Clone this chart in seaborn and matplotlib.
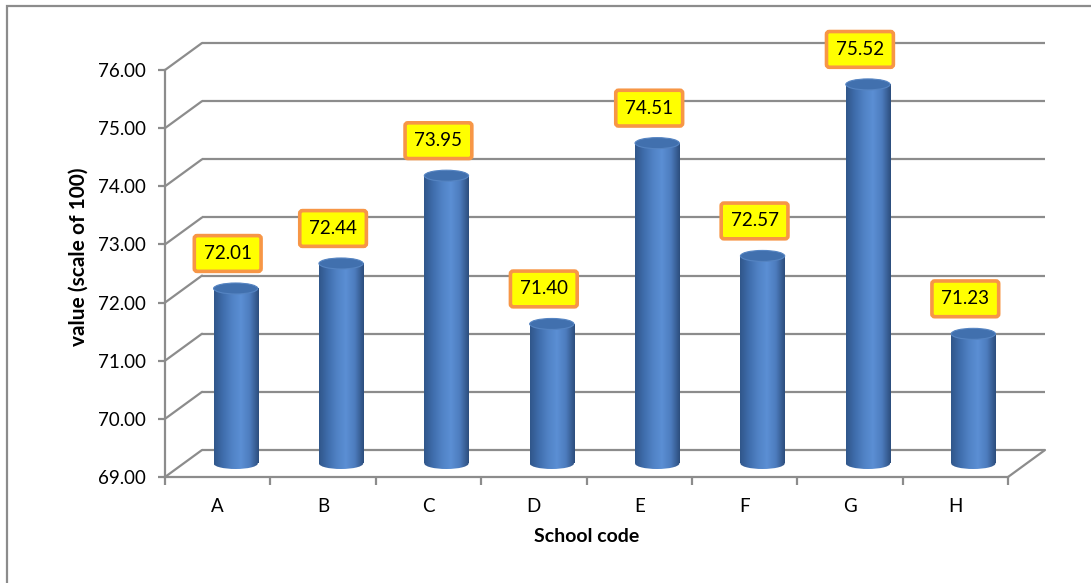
import numpy as np
import pandas as pd
import matplotlib
matplotlib.use("Agg")
import matplotlib.pyplot as plt
import seaborn as sns
from matplotlib.colors import LinearSegmentedColormap
from matplotlib.patches import Ellipse, Rectangle

# Average value per school
schools = ["A", "B", "C", "D", "E", "F", "G", "H"]
scores = [72.01, 72.44, 73.95, 71.40, 74.51, 72.57, 75.52, 71.23]
y_ticks = [69, 70, 71, 72, 73, 74, 75, 76]

GRID = "#8c8c8c"
W, H, DPI = 1091, 583, 100

sns.set_theme(style="white")
plt.rcParams["font.family"] = ["Lato", "DejaVu Sans"]

fig = plt.figure(figsize=(W / DPI, H / DPI), dpi=DPI)
ax = fig.add_axes([165 / W, (H - 477) / H, (1008 - 165) / W, (477 - 70) / H])

df = pd.DataFrame({"School code": schools, "value": scores})
sns.barplot(data=df, x="School code", y="value", ax=ax, width=0.42,
            color="#4f81bd", saturation=1, errorbar=None)

ax.set_xlim(-0.5, 7.5)
ax.set_ylim(y_ticks[0], y_ticks[-1])
n = len(schools)


def px_to_data(dxp, dyp):
    inv = ax.transData.inverted()
    x0, y0 = inv.transform((0, 0))
    x1, y1 = inv.transform((dxp, dyp))
    return x1 - x0, y1 - y0


# 3D depth: back wall and mid-depth (where the cylinders stand)
dxb, dyb = px_to_data(37, 27)
dxm, dym = px_to_data(18, 13.5)
_, ell_h = px_to_data(0, 11)

ymin = y_ticks[0]
lw = 1.6
# back wall gridlines and the left side-wall diagonals
for yv in y_ticks:
    ax.plot([-0.5 + dxb, n - 0.5 + dxb], [yv + dyb, yv + dyb], color=GRID,
            lw=lw, clip_on=False, zorder=1, solid_capstyle="butt")
    ax.plot([-0.5, -0.5 + dxb], [yv, yv + dyb], color=GRID, lw=lw,
            clip_on=False, zorder=1)
# floor: right diagonal
ax.plot([n - 0.5, n - 0.5 + dxb], [ymin, ymin + dyb], color=GRID, lw=lw,
        clip_on=False, zorder=1)

# cylinder shading
cyl_cmap = LinearSegmentedColormap.from_list(
    "cyl", ["#30568a", "#3f6dac", "#5082c5", "#5b8fd4", "#4d7cbe", "#2c4d7c"])
grad = np.linspace(0, 1, 256).reshape(1, -1)

for bar, v in zip(ax.patches, scores):
    bw = bar.get_width()
    x0 = bar.get_x() + dxm
    cx = x0 + bw / 2
    yb = ymin + dym
    yt = v + dym
    bar.set_x(x0)
    bar.set_y(yb)
    bar.set_height(v - ymin)
    bar.set_facecolor("none")
    bar.set_edgecolor("none")
    bar.set_clip_on(False)
    bar.set_zorder(3)

    body = ax.imshow(grad, cmap=cyl_cmap, aspect="auto", interpolation="bilinear",
                     extent=[x0, x0 + bw, yb, yt], zorder=3)
    body.set_clip_path(bar)

    bottom = Ellipse((cx, yb), bw, ell_h, facecolor="none", edgecolor="none",
                     clip_on=False, zorder=2.9)
    ax.add_patch(bottom)
    bimg = ax.imshow(grad, cmap=cyl_cmap, aspect="auto", interpolation="bilinear",
                     extent=[x0, x0 + bw, yb - ell_h, yb + ell_h], zorder=2.9)
    bimg.set_clip_path(bottom)

    top = Ellipse((cx, yt), bw, ell_h, facecolor="#4170ae", edgecolor="#5584c2",
                  lw=0.8, clip_on=False, zorder=4)
    ax.add_patch(top)

    ax.annotate(f"{v:.2f}", xy=(cx, yt), xytext=(-8, 35),
                textcoords="offset pixels", ha="center", va="center",
                fontsize=13.5, color="black", zorder=6, annotation_clip=False,
                bbox=dict(boxstyle="round,pad=0.5,rounding_size=0.15",
                          fc="#ffff00", ec="#f79646", lw=2.6))

ax.set_xlim(-0.5, n - 0.5)
ax.set_ylim(y_ticks[0], y_ticks[-1])

# axes, ticks and labels
for side in ["top", "right"]:
    ax.spines[side].set_visible(False)
for side in ["left", "bottom"]:
    ax.spines[side].set_color(GRID)
    ax.spines[side].set_linewidth(lw)
    ax.spines[side].set_zorder(1)

ax.set_yticks(y_ticks)
ax.set_yticklabels([f"{t:.2f}" for t in y_ticks])
ax.tick_params(axis="y", which="major", left=True, length=5, width=lw,
               color=GRID, labelsize=13.5, pad=9, labelcolor="black")
ax.set_xticks(range(n))
ax.set_xticklabels(schools)
ax.set_xticks(np.arange(-0.5, n, 1.0), minor=True)
ax.tick_params(axis="x", which="major", bottom=True, length=0, labelsize=13.5,
               pad=15, labelcolor="black")
ax.tick_params(axis="x", which="minor", bottom=True, length=6, width=lw,
               color=GRID)

ax.set_xlabel("School code", fontsize=14, fontweight="bold", color="black")
ax.set_ylabel("value (scale of 100)", fontsize=15, fontweight="bold",
              color="black")
ax.xaxis.set_label_coords(0.5, -0.125)
ax.yaxis.set_label_coords(-0.09, 0.54)
ax.set_facecolor("none")
ax.grid(False)

# chart frame
fig.add_artist(Rectangle((7 / W, -0.2), 1.2, 1 - 6 / H + 0.2,
                         transform=fig.transFigure, fill=False,
                         edgecolor=GRID, lw=1.6))

fig.savefig("out.png", dpi=DPI, facecolor="white")
